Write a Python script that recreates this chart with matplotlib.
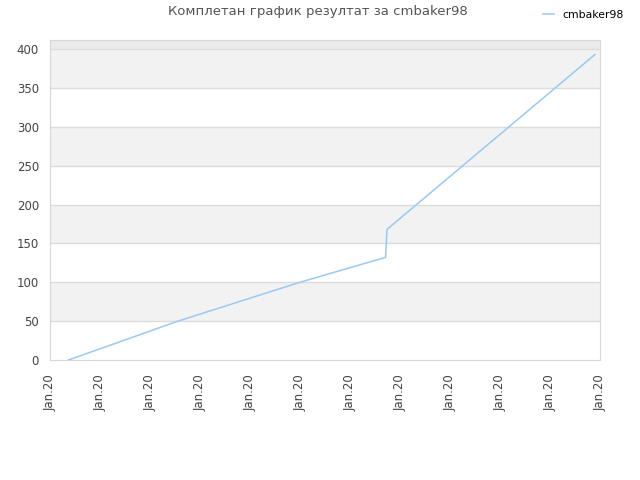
import matplotlib
matplotlib.use("Agg")
import matplotlib.pyplot as plt

# data (x in tick units, one tick per "Jan.20")
days = [0.37, 2.56, 5.0, 6.71, 6.74, 10.9]
score = [0, 50, 100, 132, 168, 393]
tick_labels = ["Jan.20"] * 12
title = "Комплетан график резултат за cmbaker98"
player = "cmbaker98"

fig = plt.figure(figsize=(6.4, 4.8), dpi=100)
ax = fig.add_axes([50 / 640, 120 / 480, 550 / 640, 320 / 480])

ymax = 411.6
# alternating bands
for lo in range(50, 400, 100):
    ax.axhspan(lo, lo + 50, color="#f2f2f2", zorder=0, lw=0)
ax.axhspan(400, ymax, color="#ebebeb", zorder=0, lw=0)
for g in range(50, 401, 50):
    ax.axhline(g, color="#dcdcdc", lw=1, zorder=1)

ax.plot(days, score, color="#99c9f5", lw=1.1, label=player, zorder=3)

ax.set_xlim(0, 11)
ax.set_ylim(0, ymax)
ax.set_xticks(range(12))
ax.set_xticklabels(tick_labels, rotation=90, fontsize=8.5, color="#444444")
ax.set_yticks(range(0, 401, 50))
ax.tick_params(axis="y", labelsize=8.5, labelcolor="#444444", length=0, pad=8)
ax.tick_params(axis="x", length=0, pad=10)
for s in ax.spines.values():
    s.set_color("#d8d8d8")

fig.text(0.497, 0.975, title, ha="center", va="center", fontsize=9.5, color="#555555")
fig.legend(loc="upper right", bbox_to_anchor=(0.99, 1.0), frameon=False,
           fontsize=7.8, handlelength=1.0, handletextpad=0.8)

fig.savefig("out.png", dpi=100)
